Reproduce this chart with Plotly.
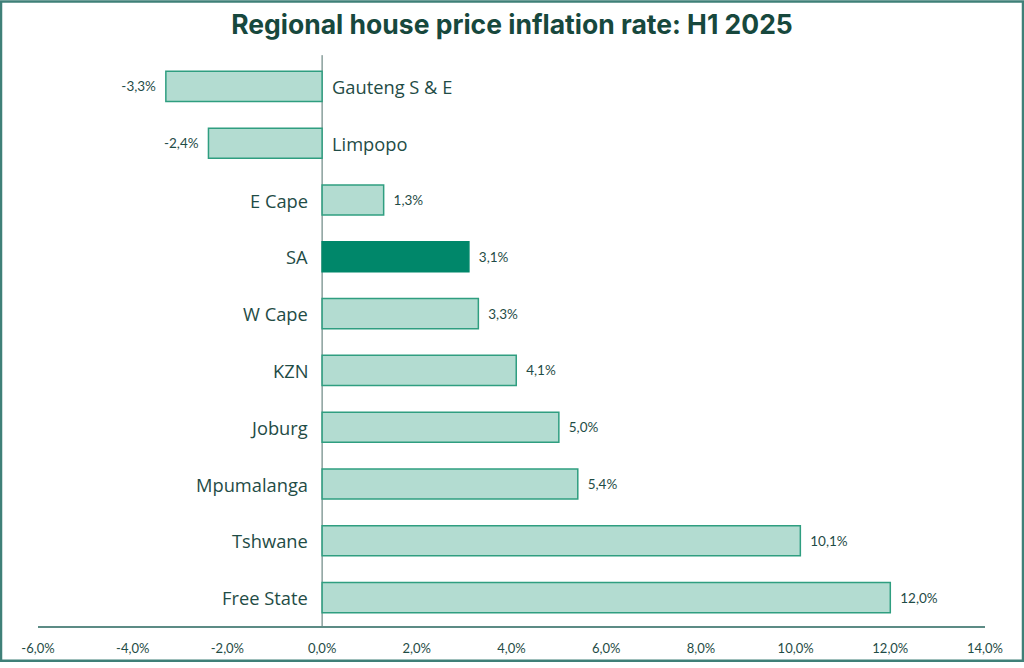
import plotly.graph_objects as go

regions = ["Gauteng S & E", "Limpopo", "E Cape", "SA", "W Cape", "KZN",
           "Joburg", "Mpumalanga", "Tshwane", "Free State"]
inflation = [-3.3, -2.4, 1.3, 3.1, 3.3, 4.1, 5.0, 5.4, 10.1, 12.0]
tick_vals = [-6, -4, -2, 0, 2, 4, 6, 8, 10, 12, 14]
highlight = "SA"

def fmt(v):
    return f"{v:.1f}".replace(".", ",") + "%"

tick_text = [fmt(v) for v in tick_vals]
value_text = [("\u00a0\u00a0" + fmt(v)) if v >= 0 else (fmt(v) + "\u00a0\u00a0") for v in inflation]

LIGHT = "#b3dcd1"
EDGE = "#2f9e80"
DARK = "#00876a"
TXT = "#1f4c46"

fill = [DARK if r == highlight else LIGHT for r in regions]
edge = [DARK if r == highlight else EDGE for r in regions]

fig = go.Figure()
fig.add_trace(go.Bar(
    x=inflation, y=regions, orientation="h",
    marker=dict(color=fill, line=dict(color=edge, width=1.5)),
    width=0.53,
    text=value_text, textposition="outside", cliponaxis=False,
    constraintext="none",
    textfont=dict(family="Lato", size=13.5, color=TXT),
    hoverinfo="skip",
))

for r, v in zip(regions, inflation):
    fig.add_annotation(
        x=0, y=r, xref="x", yref="y", text=r, showarrow=False,
        xanchor="left" if v < 0 else "right",
        xshift=8 if v < 0 else -12,
        font=dict(family="Open Sans", size=18.3, color=TXT),
    )

W, H = 1024, 668
ml, mr, mt, mb = 38, 39, 58, 36
pw, ph = W - ml - mr, H - mt - mb

# outer frame
fig.add_shape(type="rect", xref="paper", yref="paper",
              x0=-(ml - 1) / pw, x1=1 + (mr - 1) / pw,
              y0=-(mb - 1) / ph, y1=1 + (mt - 1) / ph,
              line=dict(color="#3f8078", width=2.5), fillcolor="rgba(0,0,0,0)", layer="above")
# zero line
fig.add_shape(type="line", xref="x", yref="paper", x0=0, x1=0, y0=0, y1=1.005,
              line=dict(color="#4e6f6b", width=1), layer="below")

fig.update_layout(
    width=W, height=H,
    margin=dict(l=ml, r=mr, t=mt, b=mb),
    paper_bgcolor="white", plot_bgcolor="white",
    showlegend=False,
    title=dict(text="<b>Regional house price inflation rate: H1 2025</b>",
               x=0.5, xanchor="center", y=1 - 25 / H, yanchor="middle",
               font=dict(family="Inter", size=26.5, color="#17483d")),
    xaxis=dict(range=[-6, 14], tickvals=tick_vals, ticktext=tick_text,
               showgrid=False, zeroline=False,
               showline=True, linecolor="#5c8b85", linewidth=2,
               ticks="", ticklabelstandoff=9,
               tickfont=dict(family="Lato", size=13, color=TXT)),
    yaxis=dict(autorange="reversed", showticklabels=False, showgrid=False,
               zeroline=False, showline=False),
)

fig.write_html("out.html")
